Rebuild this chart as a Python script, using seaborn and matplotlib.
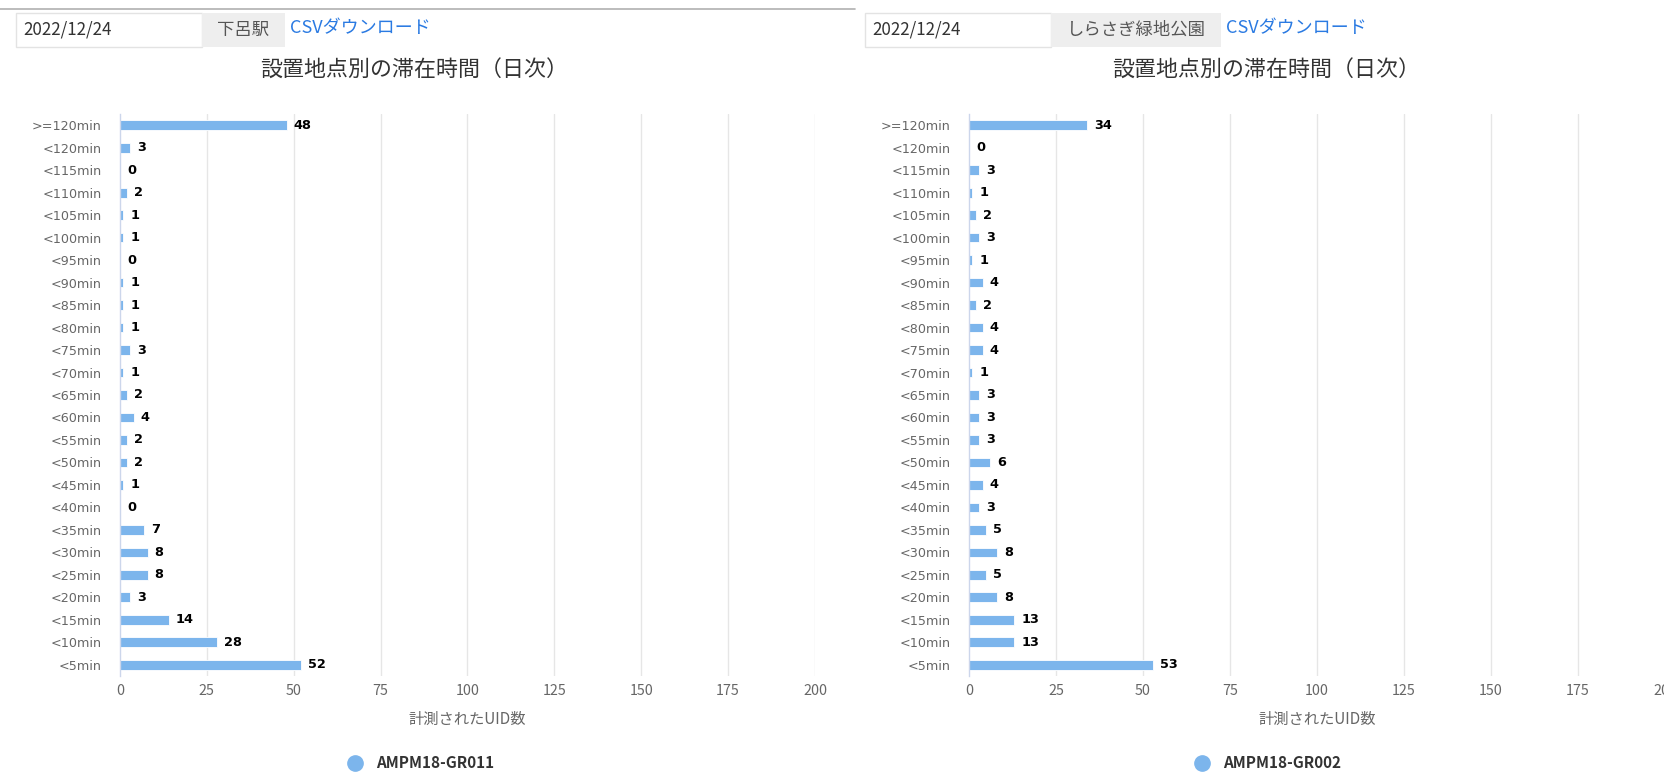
import matplotlib
matplotlib.use("Agg")
import matplotlib.pyplot as plt
import seaborn as sns
import pandas as pd
from matplotlib.lines import Line2D
from matplotlib.patches import Rectangle

sns.set_theme(style="white")
plt.rcParams['font.family'] = ['Noto Sans CJK JP', 'DejaVu Sans']

categories = [">=120min", "<120min", "<115min", "<110min", "<105min", "<100min",
              "<95min", "<90min", "<85min", "<80min", "<75min", "<70min", "<65min",
              "<60min", "<55min", "<50min", "<45min", "<40min", "<35min", "<30min",
              "<25min", "<20min", "<15min", "<10min", "<5min"]
values_left = [48, 3, 0, 2, 1, 1, 0, 1, 1, 1, 3, 1, 2, 4, 2, 2, 1, 0, 7, 8, 8, 3, 14, 28, 52]
values_right = [34, 0, 3, 1, 2, 3, 1, 4, 2, 4, 4, 1, 3, 3, 3, 6, 4, 3, 5, 8, 5, 8, 13, 13, 53]
x_ticks = [0, 25, 50, 75, 100, 125, 150, 175, 200]
date_text = "2022/12/24"
station_left = "下呂駅"
station_right = "しらさぎ緑地公園"
link_text = "CSVダウンロード"
title_text = "設置地点別の滞在時間（日次）"
xlabel_text = "計測されたUID数"
series_left = "AMPM18-GR011"
series_right = "AMPM18-GR002"

BAR = "#7cb5ec"
W, H = 1665, 773
fig = plt.figure(figsize=(W / 100, H / 100), dpi=100)
fig.patch.set_facecolor("white")


def fx(px):
    return px / W


def fy(py):
    return 1 - py / H


def draw_panel(left_px, width_px, values, station, box_x, gray_w, series, chart_center, title_center):
    ax = fig.add_axes([fx(left_px), fy(676), fx(width_px), 562 / H])
    df = pd.DataFrame({"cat": categories, "val": values})
    sns.barplot(data=df, x="val", y="cat", order=categories, color=BAR, saturation=1,
                width=0.43, ax=ax, edgecolor="white", linewidth=0.6)
    ax.set_xlim(0, 200)
    ax.set_ylim(len(categories) - 0.5, -0.5)
    ax.set_xticks(x_ticks)
    ax.set_xticklabels([str(t) for t in x_ticks])
    for t in x_ticks[1:]:
        ax.axvline(t, color="#e6e6e6", lw=1, zorder=0)
    for s in ["top", "right", "bottom"]:
        ax.spines[s].set_visible(False)
    ax.spines["left"].set_color("#ccd6eb")
    ax.spines["left"].set_linewidth(1)
    ax.tick_params(axis="y", length=0, pad=13, labelsize=9.2, labelcolor="#666666")
    for lab in ax.get_yticklabels():
        lab.set_family("DejaVu Sans")
    ax.tick_params(axis="x", length=0, pad=6, labelsize=10.3, labelcolor="#666666")
    ax.set_ylabel("")
    ax.set_xlabel(xlabel_text, fontsize=11, color="#666666", labelpad=9)
    for i, v in enumerate(values):
        ax.annotate(str(v), xy=(v, i), xytext=(5, 0), textcoords="offset points",
                    ha="left", va="center", fontsize=9.3, fontweight="bold", color="#000000",
                    family="DejaVu Sans")
    # title
    fig.text(fx(title_center), fy(71), title_text, ha="center", va="center",
             fontsize=15.8, color="#333333")
    # header boxes
    fig.patches.append(Rectangle((fx(box_x), fy(47)), fx(186), 34 / H, transform=fig.transFigure,
                                 facecolor="white", edgecolor="#e3e3e3", lw=1))
    fig.patches.append(Rectangle((fx(box_x + 186), fy(47)), fx(gray_w), 34 / H,
                                 transform=fig.transFigure, facecolor="#eeeeee", edgecolor="none"))
    fig.text(fx(box_x + 7), fy(30), date_text, ha="left", va="center", fontsize=12.2, color="#333333")
    fig.text(fx(box_x + 186 + gray_w / 2), fy(30), station, ha="center", va="center",
             fontsize=12.5, color="#555555")
    fig.text(fx(box_x + 186 + gray_w + 5), fy(28), link_text, ha="left", va="center",
             fontsize=13, color="#2a7ae2")
    # legend
    handle = Line2D([0], [0], marker="o", color="none", markerfacecolor=BAR,
                    markeredgecolor=BAR, markersize=11)
    leg = ax.legend([handle], [series], loc="center", bbox_to_anchor=(fx(chart_center), fy(763)),
                    bbox_transform=fig.transFigure, frameon=False, handletextpad=0.4,
                    prop={"size": 11, "weight": "bold"})
    for t in leg.get_texts():
        t.set_color("#333333")
    return ax


draw_panel(120, 695, values_left, station_left, 16, 83, series_left, 417, 414)
draw_panel(969, 696, values_right, station_right, 865, 170, series_right, 1264, 1266)

fig.add_artist(Line2D([0, fx(855)], [fy(9), fy(9)], transform=fig.transFigure,
                      color="#b0b0b0", lw=1.2))

fig.savefig("out.png", dpi=100, facecolor="white")
